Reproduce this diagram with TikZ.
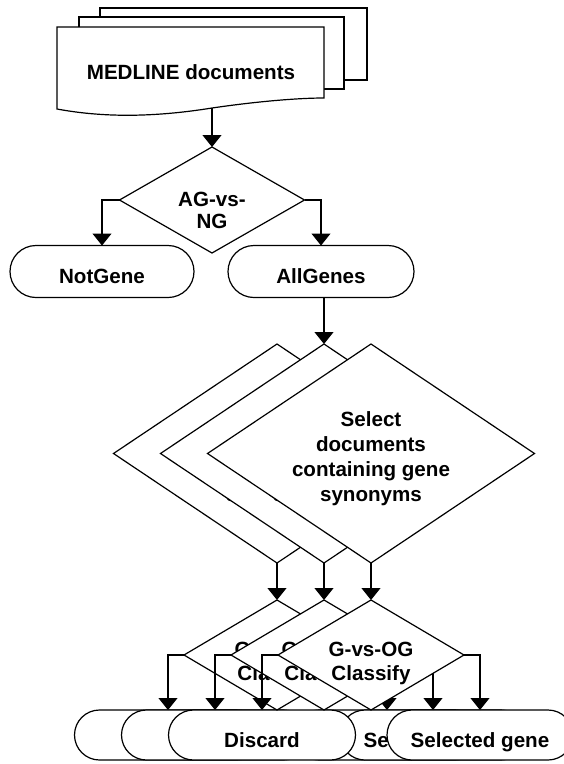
\documentclass[tikz,border=0pt]{standalone}
\usepackage{fontspec}
\setmainfont{Liberation Sans}
\usetikzlibrary{shapes.geometric,arrows.meta}
\begin{document}
\begin{tikzpicture}[x=1pt,y=-1pt,
  lw/.style={line width=1.2pt},
  shp/.style={draw, lw, fill=white, inner sep=0pt, outer sep=0pt},
  txt/.style={font=\bfseries\fontsize{20.6}{24}\selectfont, align=center, inner sep=0pt},
  one/.style={txt, text height=14.8pt, text depth=0pt},
  dia/.style 2 args={shp, diamond, minimum width=#1, minimum height=#2},
  termA/.style={shp, rectangle, rounded corners=26pt, minimum width=#1, minimum height=52pt,
     font=\bfseries\fontsize{20.6}{24}\selectfont, text height=23.8pt, text depth=0pt},
  termB/.style={shp, rectangle, rounded corners=25pt, minimum width=#1, minimum height=50pt,
     font=\bfseries\fontsize{20.6}{24}\selectfont, text height=24.4pt, text depth=0pt},
  arr/.style={lw, -{Triangle[length=12pt,width=19pt]}}]
\useasboundingbox (0,0) rectangle (564,764);
% document stack
\draw[lw, fill=white] (100,8) rectangle (367,80);
\draw[lw, fill=white] (79,17) rectangle (344,89);
\draw[lw, fill=white] (57,27) -- (324,27) -- (324,98)
   .. controls (300,98) and (260,101) .. (212,108)
   .. controls (150,118) and (100,117) .. (57,109) -- cycle;
\node[one] (doc) at (191,72.5) {MEDLINE documents};
\coordinate (docb) at (212,108);
% first decision
\node[dia={185pt}{106pt}, label={[txt, yshift=-10.5pt]center:{AG-vs-\\[-2pt]NG}}] (ag) at (212,200) {};
\node[termA=184pt] (notgene) at (102,271.5) {NotGene};
\node[termA=186pt] (allgenes) at (321,271.5) {AllGenes};
\draw[arr] (docb) -- (ag.north);
\draw[arr] (ag.west) -| (notgene.north);
\draw[arr] (ag.east) -| (allgenes.north);
% big diamonds
\node[dia={327pt}{219pt}, label={[txt, yshift=-5pt]center:{Select\\[1pt]documents\\[1pt]containing gene\\[1pt]synonyms}}] (sel1) at (277,453.5) {};
\node[dia={327pt}{219pt}, label={[txt, yshift=-5pt]center:{Select\\[1pt]documents\\[1pt]containing gene\\[1pt]synonyms}}] (sel2) at (324,453.5) {};
\node[dia={327pt}{219pt}, label={[txt, yshift=-5pt]center:{Select\\[1pt]documents\\[1pt]containing gene\\[1pt]synonyms}}] (sel3) at (371,453.5) {};
\draw[arr] (allgenes.south -| sel2.north) -- (sel2.north);
% terminals at bottom
\node[termB=187pt] (disc1) at (168,735) {Discard};
\node[termB=186pt] (selg1) at (387,735) {Selected gene};
\node[termB=187pt] (disc2) at (215,735) {Discard};
\node[termB=186pt] (selg2) at (433,735) {Selected gene};
\node[termB=187pt] (disc3) at (262,735) {Discard};
\node[termB=186pt] (selg3) at (480,735) {Selected gene};
% small diamonds with branches
\node[dia={186pt}{110pt}, label={[txt, yshift=-8.3pt]center:{G-vs-OG\\Classify}}] (g1) at (277,655) {};
\draw[arr] (g1.west) -| (disc1.north);
\draw[arr] (g1.east) -| (selg1.north);
\node[dia={186pt}{110pt}, label={[txt, yshift=-8.3pt]center:{G-vs-OG\\Classify}}] (g2) at (324,655) {};
\draw[arr] (g2.west) -| (disc2.north);
\draw[arr] (g2.east) -| (selg2.north);
\node[dia={186pt}{110pt}, label={[txt, yshift=-8.3pt]center:{G-vs-OG\\Classify}}] (g3) at (371,655) {};
\draw[arr] (g3.west) -| (disc3.north);
\draw[arr] (g3.east) -| (selg3.north);
% big to small
\draw[arr] (sel1.south) -- (g1.north);
\draw[arr] (sel2.south) -- (g2.north);
\draw[arr] (sel3.south) -- (g3.north);
\end{tikzpicture}
\end{document}
